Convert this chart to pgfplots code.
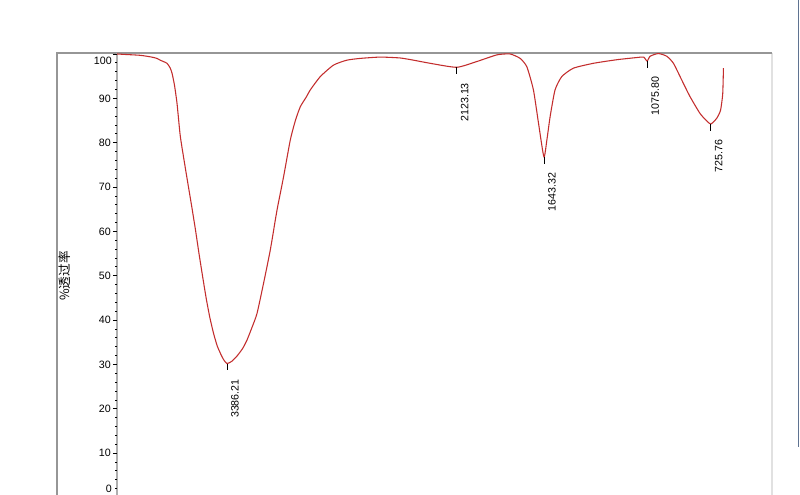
\documentclass[border=0pt]{standalone}
\usepackage{pgfplots}
\pgfplotsset{compat=1.18}
\usepackage{pgfplotstable}
\usepackage{fontspec}
\setmainfont{Liberation Sans}
\newfontfamily\cjk{Noto Sans CJK SC}
\definecolor{curve}{RGB}{195,45,45}
\definecolor{framegray}{RGB}{150,150,150}
\definecolor{lightframe}{RGB}{225,225,225}
\definecolor{axisgray}{RGB}{175,175,175}
\definecolor{winblue}{RGB}{95,115,145}

\pgfplotstableread{
x y
3991 100.0
3950 99.9
3863 99.7
3800 99.3
3771 99.0
3753 98.6
3716 97.9
3698 96.8
3688 95.6
3675 93.0
3661 88.9
3643 81.5
3620 75.5
3600 70.5
3580 65.6
3560 60.5
3540 55.0
3520 49.8
3500 44.8
3480 40.5
3460 37.0
3440 34.2
3420 32.3
3405 31.1
3386.21 30.2
3360 30.7
3331 31.9
3300 33.6
3276 35.5
3250 38.2
3221 41.5
3185 48.3
3148 55.8
3111 64.8
3075 72.3
3038 80.6
3010 85.0
2983 88.1
2950 90.3
2928 91.9
2873 94.9
2800 97.5
2727 98.6
2654 99.0
2544 99.3
2434 99.1
2360 98.6
2269 97.9
2123.13 97.0
2012 98.3
1902 99.8
1829 100.0
1774 99.0
1737 97.1
1701 91.9
1673 84.4
1643.32 76.8
1627 80.6
1609 85.9
1582 91.9
1545 94.9
1481 96.8
1371 97.9
1261 98.6
1224 98.8
1132 99.2
1095 99.3
1075.80 98.4
1059 99.5
1014 100.1
968 99.5
931 97.9
885 94.1
840 90.4
785 86.6
750 85.0
725.76 84.2
693 85.5
672 87.3
660 91.0
656 96.8
}\spectrum

\pgfplotstableread{
x y label
3386.21 30.2 3386.21
2123.13 97.0 2123.13
1643.32 76.8 1643.32
1075.80 98.4 1075.80
725.76 84.2 725.76
}\peaks

\begin{document}
\begin{tikzpicture}[x=0.75pt,y=0.75pt]
\useasboundingbox (0,0) rectangle (800,495);
\clip (0,0) rectangle (800,495);
\fill[white] (0,0) rectangle (800,495);
% outer frame
\draw[lightframe, line width=1.5pt] (772,442) -- (772,-5);
\draw[framegray, line width=1.1pt] (57,-5) -- (57,442) -- (772,442);
% window border at right
\draw[winblue, line width=1.2pt] (798.5,48) -- (798.5,500);
% y axis line
\draw[axisgray, line width=1.4pt] (117,-5) -- (117,442);
% y label
\node[rotate=90, font=\cjk\fontsize{9.5}{10}\selectfont, inner sep=0pt] at (65,219) {\%透过率};

\begin{axis}[
  at={(87.75pt,-1.875pt)}, anchor=south west,
  scale only axis, width=491.25pt, height=333.3pt,
  x dir=reverse, xmin=389, xmax=3991, ymin=0, ymax=100.2,
  axis line style={draw=none},
  xtick=\empty,
  ytick={0,10,20,30,40,50,60,70,80,90,100},
  yticklabels={,10,20,30,40,50,60,70,80,90,},
  minor y tick num=4,
  ytick pos=left, yticklabel pos=left, tick align=outside,
  major tick length=3pt, minor tick length=1.3pt,
  tick style={black, line width=0.6pt},
  yticklabel style={font=\fontsize{8}{9}\selectfont, inner sep=1.5pt},
  clip=false,
]
\addplot[curve, line width=0.8pt, no marks, smooth, tension=0.35] table[x=x,y=y] {\spectrum};
\addplot[only marks, mark=|, mark size=2.6pt,
  mark options={black, line width=0.5pt, yshift=-2.6pt},
  point meta=explicit symbolic, nodes near coords,
  every node near coord/.style={xshift=6pt, yshift=-9pt, rotate=90, anchor=east,
     inner sep=0pt, font=\fontsize{8}{9}\selectfont, black}]
  table[x=x,y=y,meta=label] {\peaks};
\end{axis}
\node[anchor=east, font=\fontsize{8}{9}\selectfont, inner sep=0pt] at (112,434) {100};
\node[anchor=east, font=\fontsize{8}{9}\selectfont, inner sep=0pt] at (112,6) {0};
\end{tikzpicture}
\end{document}
